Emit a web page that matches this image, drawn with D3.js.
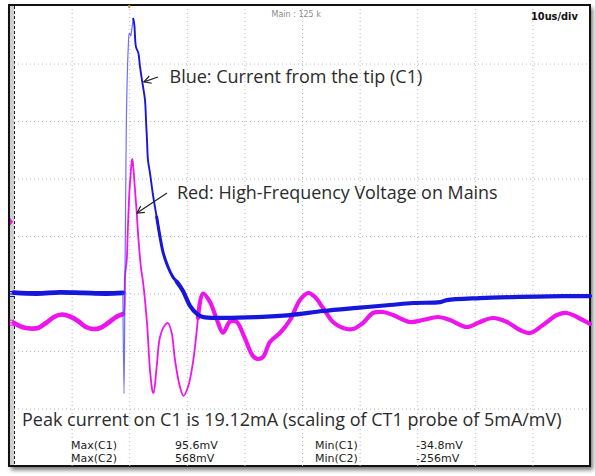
<!DOCTYPE html>
<html><head><meta charset="utf-8">
<script src="https://cdn.jsdelivr.net/npm/d3@7"></script>
<style>body{margin:0;background:#fff}svg{display:block}</style>
</head><body>
<svg id="c" width="595" height="476"></svg>
<script>
// ---- data (time in µs, C1 and C2 in mV) ----
const timeTicks = [-10, 0, 10, 20, 30, 40, 50, 60, 70];
const c1Ticks = [-40, -20, 0, 20, 40, 60, 80];
const c1Pre = [[-20,0.3],[-16,0],[-12,0.4],[-8,0.2],[-4,0],[-1.1,0.2]];
const c1Edge = [[-1.1,0.2],[-0.9,-34.8],[-0.75,0],[-0.56,46.4],[-0.43,67.3],[-0.16,85.7],[0.02,90.6],[0.26,89.6],[0.43,91.7],[0.71,95.6]];
const c1Fall = [[0.71,95.6],[0.89,93.4],[1.18,85.7],[1.58,83.7],[1.88,78.8],[2.27,73.6],[2.74,67.3],[2.92,60.3],[3.09,53.4],[3.26,46.4],[3.61,41.9],[4.13,34.3],[4.77,26.6],[5.35,19.7]];
const c1Knee = [[4.77,26.6],[5.35,19.7],[5.87,14.4],[6.74,9.2],[7.6,5.7],[8.3,4.0],[9.34,0.9]];
const c1Tail = [[8.3,4.0],[9.34,0.9],[10.56,-4.3],[11.77,-7.1],[12.81,-8.2],[16.28,-8.5],[22.19,-8.2],[27.92,-7.5],[33.65,-6.1],[39.55,-5.0],[45.28,-4.0],[49.27,-3.3],[53.96,-3.0],[55.17,-2.3],[60.9,-1.6],[67.85,-1.2],[75.31,-0.9],[80,-0.9]];
const c2Pre = [[-20,-2.6],[-18.61,-16.5],[-17.22,-21.7],[-15.83,-20],[-14.44,-2.6],[-13.06,18.3],[-11.67,27],[-10.28,20],[-8.89,4.3],[-7.5,-16.5],[-6.28,-23.5],[-5.07,-20],[-3.68,-2.6],[-2.29,18.3],[-1.08,28.7]];
const c2Pulse = [[-1.08,28.7],[-0.9,35.7],[-0.73,160],[-0.43,216],[-0.26,310.4],[0.02,449],[0.14,484.3],[0.43,557.4],[0.54,568],[0.75,529.6],[1.01,460],[1.30,383.5],[1.58,296.5],[2.05,188.7],[2.40,140],[3.09,-2.6],[3.61,-166],[4.08,-242.6],[4.22,-246],[4.77,-155.7],[5.35,-51.3],[6.22,-9.6],[6.74,-2.6],[7.38,-37.4],[7.95,-131.3],[8.82,-225.2],[9.42,-256],[10.21,-225.2],[11.08,-139],[11.94,14.8]];
const c2Tail = [[11.94,14.8],[12.81,100],[14.03,70.4],[15.24,7.8],[16.28,-36],[17.5,1.9],[18.63,1.9],[19.96,-50],[21.49,-117.4],[22.36,-127.8],[23.23,-120.9],[24.44,-68.7],[26.18,-37.4],[27.92,7.8],[29.65,77.4],[31.04,101.7],[32.26,87.8],[33.65,49.6],[35.38,0.9],[37.12,-20],[38.85,-23.5],[40.59,-2.6],[42.33,32.2],[44.06,35.7],[45.8,25.2],[48.75,0.9],[51.01,7.8],[53.61,18.3],[55.69,7.8],[58.65,-16.5],[60.9,0.9],[63.16,14.8],[65.59,0.9],[67.85,-27],[69.58,-37.4],[71.84,-9.6],[74.27,25.2],[76.01,32.2],[77.74,18.3],[80,-6.1]];
const measLabels = ["Max(C1)", "Max(C2)", "Min(C1)", "Min(C2)"];
const measValues = ["95.6mV", "568mV", "-34.8mV", "-256mV"];
const headerText = "Main : 125 k";
const timebaseText = "10us/div";
const blueNote = "Blue: Current from the tip (C1)";
const redNote = "Red: High-Frequency Voltage on Mains";
const peakNote = "Peak current on C1 is 19.12mA (scaling of CT1 probe of 5mA/mV)";

// ---- scales ----
const svg = d3.select("#c");
const L = 14, R = 590, T = 6, B = 466;
const x = d3.scaleLinear().domain([-20, 80]).range([L, R]);
const y1 = d3.scaleLinear().domain([-60, 100]).range([B, T]);
const y2 = d3.scaleLinear().domain([-500, 1100]).range([B, T]);

const defs = svg.append("defs");
const f = defs.append("filter").attr("id","sh").attr("x","-5%").attr("y","-5%").attr("width","110%").attr("height","110%");
f.append("feGaussianBlur").attr("stdDeviation", 2);

// shadow + frame
svg.append("rect").attr("x", 11).attr("y", 8).attr("width", 582).attr("height", 462).attr("fill", "#777").attr("filter","url(#sh)");
svg.append("rect").attr("x", 9).attr("y", 5).attr("width", 581).attr("height", 461).attr("fill", "#fff").attr("stroke", "#111").attr("stroke-width", 2);
svg.append("rect").attr("x", 10).attr("y", 6).attr("width", 4).attr("height", 459).attr("fill", "#cfcfcf");
svg.append("line").attr("x1", 14.5).attr("x2", 14.5).attr("y1", 6).attr("y2", 466).attr("stroke", "#222").attr("stroke-dasharray", "3,2");

// grid
const gx = svg.append("g").attr("transform", `translate(0,${B})`)
  .call(d3.axisBottom(x).tickValues(timeTicks).tickSize(-(B - T)).tickFormat(""));
const gy = svg.append("g").attr("transform", `translate(${L},0)`)
  .call(d3.axisLeft(y1).tickValues(c1Ticks).tickSize(-(R - L)).tickFormat(""));
[gx, gy].forEach(g => {
  g.select(".domain").remove();
  g.selectAll(".tick line").attr("stroke", "#b8b8b8").attr("stroke-width", 1).attr("stroke-dasharray", "1,3");
});

// trigger mark at top
svg.append("rect").attr("x", x(0) - 1).attr("y", 5).attr("width", 2).attr("height", 3).attr("fill", "#d08a2a");

// traces
const line1 = d3.line().x(d => x(d[0])).y(d => y1(d[1])).curve(d3.curveCatmullRom.alpha(0.5));
const line2 = d3.line().x(d => x(d[0])).y(d => y2(d[1])).curve(d3.curveCatmullRom.alpha(0.5));
const MAG = "#ee14ee", BLU = "#1616dc";
const draw = (data, gen, color, w, op) => svg.append("path").datum(data).attr("d", gen)
  .attr("fill", "none").attr("stroke", color).attr("stroke-width", w).attr("stroke-linejoin", "round").attr("stroke-linecap", "round").attr("opacity", op || 1);

draw(c2Pre, line2, MAG, 4.6);
draw(c2Pulse, line2, MAG, 1.8);
draw(c2Tail, line2, MAG, 4.2);
draw(c1Pre, line1, BLU, 4.8);
draw(c1Edge, line1, "#4a4aff", 1.2, 0.8);
draw(c1Fall, line1, BLU, 1.9);
draw(c1Knee, line1, BLU, 3);
draw(c1Tail, line1, BLU, 4.2);

// left channel markers
[[y1(0), BLU], [y2(0), MAG]].forEach(([yy, c]) => {
  [-2, 0.5, 3].forEach(o => svg.append("line").attr("x1", 9.5).attr("x2", 14).attr("y1", yy + o).attr("y2", yy + o).attr("stroke", c).attr("stroke-width", 1));
});
svg.append("path").attr("d", `M10,${y2(350) - 4} L13,${y2(350)} L10,${y2(350) + 4} Z`).attr("fill", MAG);

// header texts
svg.append("text").attr("x", 271.5).attr("y", 16.5).attr("font-family", "DejaVu Sans").attr("font-size", 8).attr("fill", "#8a8a8a").text(headerText);
svg.append("text").attr("x", 531).attr("y", 20).attr("font-family", "DejaVu Sans").attr("font-weight", "bold").attr("font-size", 9.8).attr("fill", "#111").text(timebaseText);

// annotations
function fit(sel, w) {
  const l = sel.node().getComputedTextLength();
  sel.attr("font-size", 16 * w / l);
}
const note = (tx, ty, str, w) => {
  const t = svg.append("text").attr("x", tx).attr("y", ty).attr("font-family", "Open Sans").attr("font-size", 16).attr("fill", "#2b2b2b").text(str);
  fit(t, w);
};
note(169.5, 83, blueNote, 253);
note(177, 199, redNote, 321);
note(22, 425.5, peakNote, 540);

function arrow(x0, y0, x1, y1p) {
  svg.append("line").attr("x1", x0).attr("y1", y0).attr("x2", x1).attr("y2", y1p).attr("stroke", "#222").attr("stroke-width", 1.2);
  const a = Math.atan2(y1p - y0, x1 - x0), len = 8, sp = 0.5;
  const p = s => [x1 - len * Math.cos(a + s * sp), y1p - len * Math.sin(a + s * sp)];
  const [pa, pb] = [p(1), p(-1)];
  svg.append("path").attr("d", `M${pa[0]},${pa[1]} L${x1},${y1p} L${pb[0]},${pb[1]}`).attr("fill", "none").attr("stroke", "#222").attr("stroke-width", 1.2);
}
arrow(158, 77, x(2.55), y1(73.6));
arrow(167, 193, x(1.35), y2(380));

// measurements
const mx = [71, 71, 315, 315], vx = [175, 175, 416, 416], my = [448.5, 462, 448.5, 462];
measLabels.forEach((s, i) => {
  svg.append("text").attr("x", mx[i]).attr("y", my[i]).attr("font-family", "DejaVu Sans").attr("font-size", 11).attr("fill", "#1a1a1a").text(s);
  svg.append("text").attr("x", vx[i]).attr("y", my[i]).attr("font-family", "DejaVu Sans").attr("font-size", 11).attr("fill", "#1a1a1a").text(measValues[i]);
});
</script>
</body></html>
